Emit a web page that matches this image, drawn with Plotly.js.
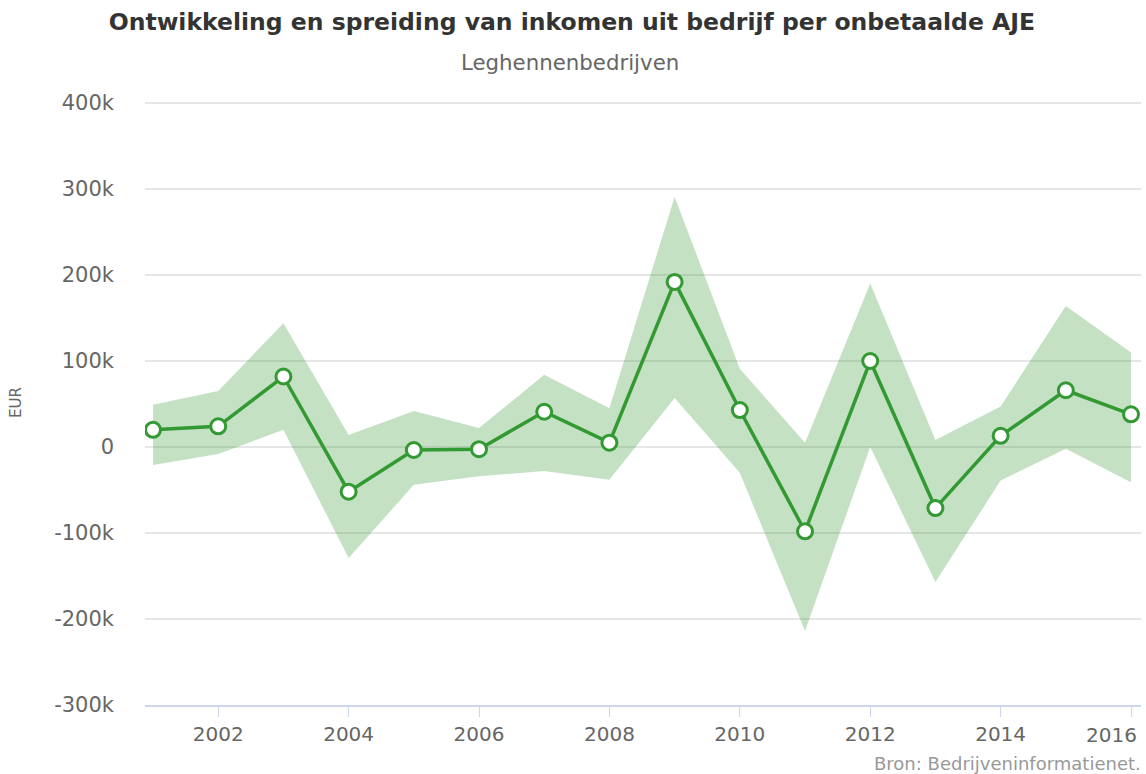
<!DOCTYPE html>
<html>
<head>
<meta charset="utf-8">
<script src="https://cdn.plot.ly/plotly-3.0.1.min.js"></script>
<style>html,body{margin:0;padding:0;background:#fff}#chart{width:1146px;height:774px}</style>
</head>
<body>
<div id="chart"></div>
<script>
var years = [2001,2002,2003,2004,2005,2006,2007,2008,2009,2010,2011,2012,2013,2014,2015,2016];
var meanValues = [20000,24000,82000,-52000,-3500,-2500,41000,5000,192000,43000,-98000,100000,-71000,13000,66000,38000];
var upperValues = [49000,65000,144000,14000,42000,22000,84000,45000,291000,91000,5000,190000,8000,47000,164000,110000];
var lowerValues = [-21000,-8000,20000,-129000,-44000,-34000,-28000,-38000,57000,-30000,-214000,0,-157000,-39000,-2000,-41000];
var yTickVals = [-300000,-200000,-100000,0,100000,200000,300000,400000];
var yTickText = ['-300k','-200k','-100k','0','100k','200k','300k','400k'];
var xTickVals = [2002,2004,2006,2008,2010,2012,2014,2016];
var xTickText = ['2002','2004','2006','2008','2010','2012','2014','2016'];

var green = '#339933';
var traces = [
  {x: years, y: lowerValues, type: 'scatter', mode: 'lines', line: {width: 0, color: 'rgba(0,0,0,0)'}, hoverinfo: 'skip', showlegend: false},
  {x: years, y: upperValues, type: 'scatter', mode: 'lines', line: {width: 0, color: 'rgba(0,0,0,0)'}, fill: 'tonexty', fillcolor: 'rgba(51,153,51,0.29)', hoverinfo: 'skip', showlegend: false},
  {x: years, y: meanValues, type: 'scatter', mode: 'lines+markers', line: {color: green, width: 3.5},
   marker: {size: 15, color: '#ffffff', line: {color: green, width: 3}}, showlegend: false}
];

// last x tick label is shifted left to stay inside the chart (as in the reference)
var shownXText = xTickText.slice(0, -1).concat(['']);
var lastIdx = xTickVals.length - 1;

var layout = {
  width: 1146, height: 774,
  margin: {l: 145, r: 5, t: 100, b: 69},
  paper_bgcolor: '#ffffff', plot_bgcolor: '#ffffff',
  font: {family: 'DejaVu Sans, sans-serif', color: '#666666'},
  title: {text: '<b>Ontwikkeling en spreiding van inkomen uit bedrijf per onbetaalde AJE</b>', x: 0.499, xanchor: 'center', y: 0.972, yanchor: 'middle',
          font: {family: 'DejaVu Sans, sans-serif', size: 23.5, color: '#333333'}},
  xaxis: {range: [2000.877, 2016.153], tickvals: xTickVals, ticktext: shownXText, showgrid: false, zeroline: false,
          showline: true, linecolor: '#ccd6eb', linewidth: 1.5, ticks: 'outside', ticklen: 10, tickcolor: '#ccd6eb', tickwidth: 1,
          tickfont: {size: 20, color: '#666666'}},
  yaxis: {range: [-300000, 403500], tickvals: yTickVals, ticktext: yTickText, showgrid: true, gridcolor: '#e6e6e6', gridwidth: 1.5,
          zeroline: false, showline: false, ticks: '', ticklabelstandoff: 30,
          tickfont: {size: 21, color: '#666666'},
          title: {text: 'EUR', font: {size: 15, color: '#666666'}, standoff: 28}},
  annotations: [
    {text: 'Leghennenbedrijven', xref: 'paper', yref: 'paper', x: 0.427, y: 1, yshift: 38, xanchor: 'center', yanchor: 'middle', showarrow: false,
     font: {size: 21.3, color: '#666666'}},
    {text: xTickText[lastIdx], xref: 'x', yref: 'paper', x: xTickVals[lastIdx], y: 0, xanchor: 'right', yanchor: 'top', xshift: 8, yshift: -16, showarrow: false,
     font: {size: 20, color: '#666666'}},
    {text: 'Bron: Bedrijveninformatienet.', xref: 'paper', yref: 'paper', x: 1, y: 0, xanchor: 'right', yanchor: 'middle', yshift: -58, xshift: 2, showarrow: false,
     font: {size: 18, color: '#999999'}}
  ]
};
Plotly.newPlot('chart', traces, layout, {displayModeBar: false});
</script>
</body>
</html>
